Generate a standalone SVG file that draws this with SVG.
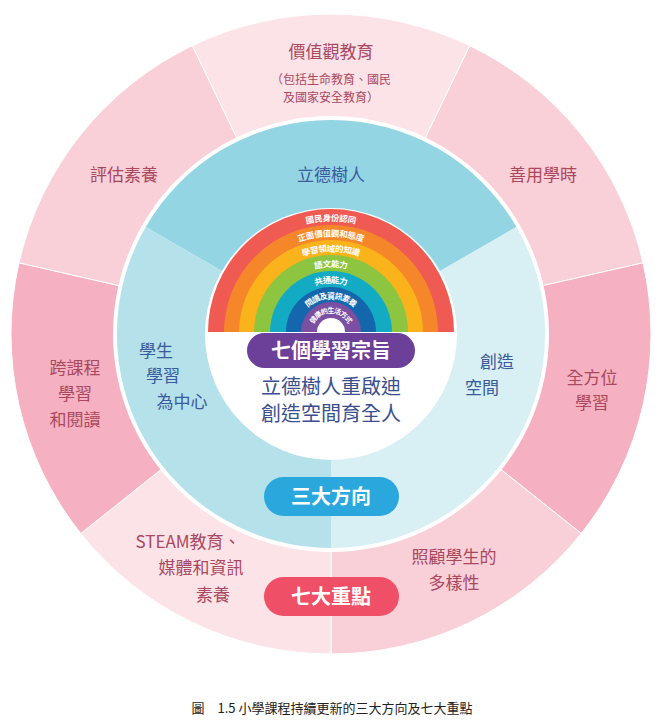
<svg xmlns="http://www.w3.org/2000/svg" width="665" height="728" viewBox="0 0 665 728">
<style>
text{font-family:"Noto Sans CJK TC","Noto Sans CJK SC",sans-serif;text-anchor:middle}
.o{fill:#a9485e;font-size:17px}
.os{fill:#a9485e;font-size:12px}
.m{fill:#3b5a9c;font-size:17px}
.c{fill:#3b4f8e;font-size:20px}
.pill{fill:#fff;font-size:20px;font-weight:bold}
.rb{fill:#fff;font-size:8.5px;font-weight:bold}
</style>
<defs>
<path id="a1" d="M216,332 A115,115 0 0 1 446,332"/>
<path id="a2" d="M231.5,332 A99.5,99.5 0 0 1 430.5,332"/>
<path id="a3" d="M246.5,332 A84.5,84.5 0 0 1 415.5,332"/>
<path id="a4" d="M262,332 A69,69 0 0 1 400,332"/>
<path id="a5" d="M278,332 A53,53 0 0 1 384,332"/>
<path id="a6" d="M293.5,332 A37.5,37.5 0 0 1 368.5,332"/>
<path id="a7" d="M309,332 A22,22 0 0 1 353,332"/>
</defs>
<rect width="665" height="728" fill="#fff"/>
<g id="outer-ring" stroke="#fff" stroke-width="1">
<path d="M331,334 L192.3,45.7 A320,320 0 0 1 469.7,45.7 Z" fill="#fce3e8"/>
<path d="M331,334 L469.7,45.7 A320,320 0 0 1 643,262.8 Z" fill="#f9cfd8"/>
<path d="M331,334 L643,262.8 A320,320 0 0 1 581.2,533.5 Z" fill="#f5b1c1"/>
<path d="M331,334 L581.2,533.5 A320,320 0 0 1 331,654 Z" fill="#f9cfd8"/>
<path d="M331,334 L331,654 A320,320 0 0 1 80.8,533.5 Z" fill="#fce3e8"/>
<path d="M331,334 L80.8,533.5 A320,320 0 0 1 19,262.8 Z" fill="#f5b1c1"/>
<path d="M331,334 L19,262.8 A320,320 0 0 1 192.3,45.7 Z" fill="#f9cfd8"/>
</g>
<circle cx="331" cy="334" r="218" fill="#fff"/>
<g id="middle-ring">
<path d="M331,334 L145.6,227 A214,214 0 0 1 516.4,227 Z" fill="#93d5e3"/>
<path d="M331,334 L516.4,227 A214,214 0 0 1 331,548 Z" fill="#d8eff4"/>
<path d="M331,334 L331,548 A214,214 0 0 1 145.6,227 Z" fill="#b5e1eb"/>
</g>
<circle id="inner" cx="331" cy="334" r="126" fill="#fff"/>
<g id="rainbow">
<path d="M208,332 A123,123 0 0 1 454,332 Z" fill="#ef5b52"/>
<path d="M224,332 A107,107 0 0 1 438,332 Z" fill="#f5872a"/>
<path d="M239,332 A92,92 0 0 1 423,332 Z" fill="#fbb31b"/>
<path d="M254,332 A77,77 0 0 1 408,332 Z" fill="#8dc540"/>
<path d="M270,332 A61,61 0 0 1 392,332 Z" fill="#13abc4"/>
<path d="M286,332 A45,45 0 0 1 376,332 Z" fill="#1467ad"/>
<path d="M301,332 A30,30 0 0 1 361,332 Z" fill="#7b4fa1"/>
<path d="M317,332 A14,14 0 0 1 345,332 Z" fill="#fff"/>
<text class="rb" dominant-baseline="central"><textPath href="#a1" startOffset="50%">國民身份認同</textPath></text>
<text class="rb" dominant-baseline="central"><textPath href="#a2" startOffset="50%">正面價值觀和態度</textPath></text>
<text class="rb" dominant-baseline="central"><textPath href="#a3" startOffset="50%">學習領域的知識</textPath></text>
<text class="rb" dominant-baseline="central"><textPath href="#a4" startOffset="50%">語文能力</textPath></text>
<text class="rb" dominant-baseline="central"><textPath href="#a5" startOffset="50%">共通能力</textPath></text>
<text class="rb" style="font-size:8px" dominant-baseline="central"><textPath href="#a6" startOffset="50%">閱讀及資訊素養</textPath></text>
<text class="rb" style="font-size:7px" dominant-baseline="central"><textPath href="#a7" startOffset="50%">健康的生活方式</textPath></text>
</g>
<g id="aims">
<rect x="247" y="333" width="168" height="35" rx="17.5" fill="#6c3f99"/>
<text class="pill" x="331" y="358">七個學習宗旨</text>
<text class="c" x="331" y="394">立德樹人重啟迪</text>
<text class="c" x="331" y="421">創造空間育全人</text>
</g>
<g id="directions">
<text class="m" x="331" y="181">立德樹人</text>
<text class="m" x="156" y="357">學生</text>
<text class="m" x="163" y="382">學習</text>
<text class="m" x="182" y="408">為中心</text>
<text class="m" x="497" y="368">創造</text>
<text class="m" x="482" y="394">空間</text>
<rect x="264" y="477" width="135" height="39" rx="19.5" fill="#2aa7dd"/>
<text class="pill" x="331" y="504">三大方向</text>
</g>
<g id="key-tasks">
<text class="o" x="331" y="58">價值觀教育</text>
<text class="os" x="331" y="84">（包括生命教育、國民</text>
<text class="os" x="331" y="102">及國家安全教育）</text>
<text class="o" x="124" y="181">評估素養</text>
<text class="o" x="543" y="181">善用學時</text>
<text class="o" x="75" y="374">跨課程</text>
<text class="o" x="75" y="400">學習</text>
<text class="o" x="75" y="426">和閱讀</text>
<text class="o" x="592" y="384">全方位</text>
<text class="o" x="592" y="409">學習</text>
<text class="o" x="188" y="548">STEAM教育、</text>
<text class="o" x="201" y="574">媒體和資訊</text>
<text class="o" x="213" y="601">素養</text>
<text class="o" x="454" y="563">照顧學生的</text>
<text class="o" x="454" y="589">多樣性</text>
<rect x="264" y="577" width="135" height="39" rx="19.5" fill="#ef5068"/>
<text class="pill" x="331" y="604">七大重點</text>
</g>
<text x="332" y="713" style="font-size:13px;fill:#222">圖　1.5 小學課程持續更新的三大方向及七大重點</text>
</svg>
